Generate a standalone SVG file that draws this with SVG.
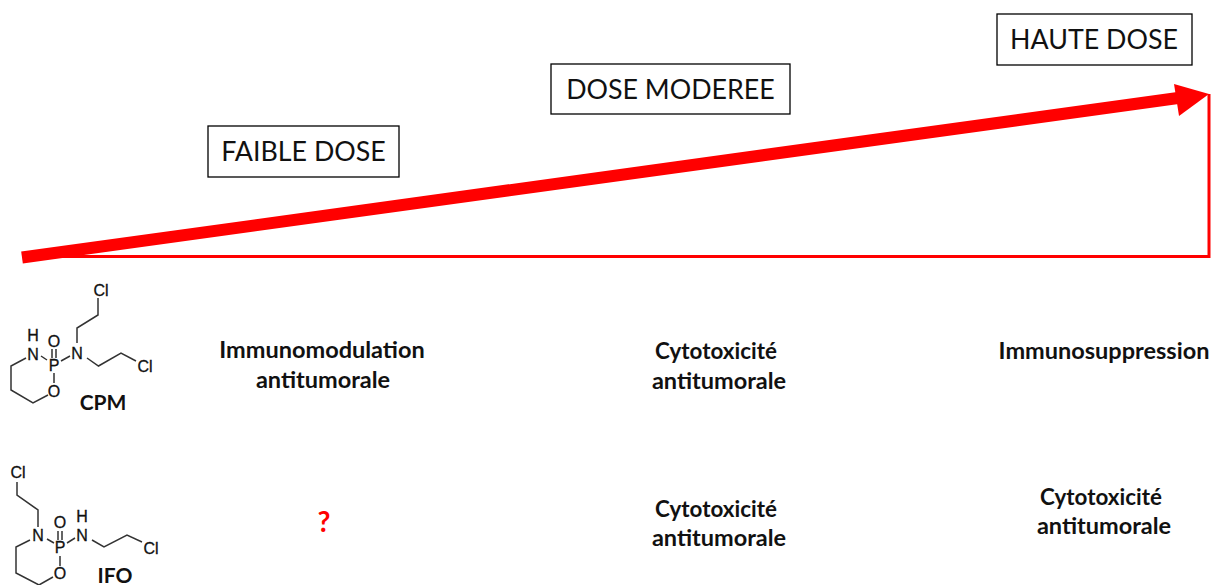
<svg xmlns="http://www.w3.org/2000/svg" width="1221" height="585" viewBox="0 0 1221 585">
<style>
.box{fill:#fff;stroke:#000;stroke-width:1.3}
.dose{font-family:"Lato","Liberation Sans",sans-serif;font-size:26.800px;fill:#111;text-anchor:middle}
.lab{font-family:"Lato","Liberation Sans",sans-serif;font-weight:700;font-size:23.500px;fill:#111;text-anchor:middle}
.cyto{font-size:22.400px}
.atom{font-family:"Liberation Sans",sans-serif;font-size:16px;fill:#111;stroke:#111;stroke-width:.3;text-anchor:middle}
.bond{fill:none;stroke:#333;stroke-width:1.5}
.name{font-family:"Lato","Liberation Sans",sans-serif;font-weight:700;font-size:21px;fill:#111;text-anchor:middle}
</style>
<g id="connectors">
<path d="M22 256.500H1209V94" fill="none" stroke="#f00" stroke-width="3"/>
<path d="M22 257.500L1178 98" fill="none" stroke="#f00" stroke-width="12"/>
<path d="M1174 84L1209 94L1179 116Z" fill="#f00"/>
</g>
<g id="faible"><rect class="box" x="208" y="126" width="191" height="51"/><text class="dose" x="303.500" y="161">FAIBLE DOSE</text></g>
<g id="moderee"><rect class="box" x="551" y="64" width="239" height="50"/><text class="dose" x="670.500" y="99">DOSE MODEREE</text></g>
<g id="haute"><rect class="box" x="997" y="14" width="195" height="51"/><text class="dose" x="1094" y="49">HAUTE DOSE</text></g>
<g id="cpm">
<path class="bond" d="M26 358L11 366V390L33 403L48 395M41 356L47 360M54 373V383M61 361L70 356M77 343V328L98 315V298M87 358L98.500 366L121 353L136 361"/>
<path class="bond" d="M52 349V358M56 349V358"/>
<text class="atom" x="33" y="341">H</text><text class="atom" x="33" y="359.500">N</text>
<text class="atom" x="54" y="371">P</text><text class="atom" x="54" y="347">O</text>
<text class="atom" x="77" y="359">N</text><text class="atom" x="54" y="397">O</text>
<text class="atom" x="101" y="296">Cl</text><text class="atom" x="145" y="372">Cl</text>
<text class="name" x="103" y="410">CPM</text>
</g>
<g id="ifo">
<path class="bond" d="M17 482V495L38 510V527M30 540L16 547V573L39 585L53 577M47 539L54 543M60 556V566M67 543L75 538M92 540L104 547L127 535L142 542"/>
<path class="bond" d="M58 531V540M62 531V540"/>
<text class="atom" x="18" y="478">Cl</text><text class="atom" x="38" y="541">N</text>
<text class="atom" x="60" y="553">P</text><text class="atom" x="60" y="528">O</text>
<text class="atom" x="82" y="522">H</text><text class="atom" x="82" y="540.500">N</text>
<text class="atom" x="60" y="579">O</text><text class="atom" x="151" y="554">Cl</text>
<text class="name" x="115" y="583">IFO</text>
</g>
<g id="labels">
<text class="lab" x="322" y="358">Immunomodulation</text><text class="lab" x="323" y="388">antitumorale</text>
<text class="lab cyto" x="716" y="359">Cytotoxicité</text><text class="lab" x="719" y="389">antitumorale</text>
<text class="lab" x="1104" y="359">Immunosuppression</text>
<text class="lab" x="324" y="532" style="fill:#f00;font-size:28px">?</text>
<text class="lab cyto" x="716" y="517">Cytotoxicité</text><text class="lab" x="719" y="546">antitumorale</text>
<text class="lab cyto" x="1101" y="505">Cytotoxicité</text><text class="lab" x="1104" y="534">antitumorale</text>
</g>
</svg>
